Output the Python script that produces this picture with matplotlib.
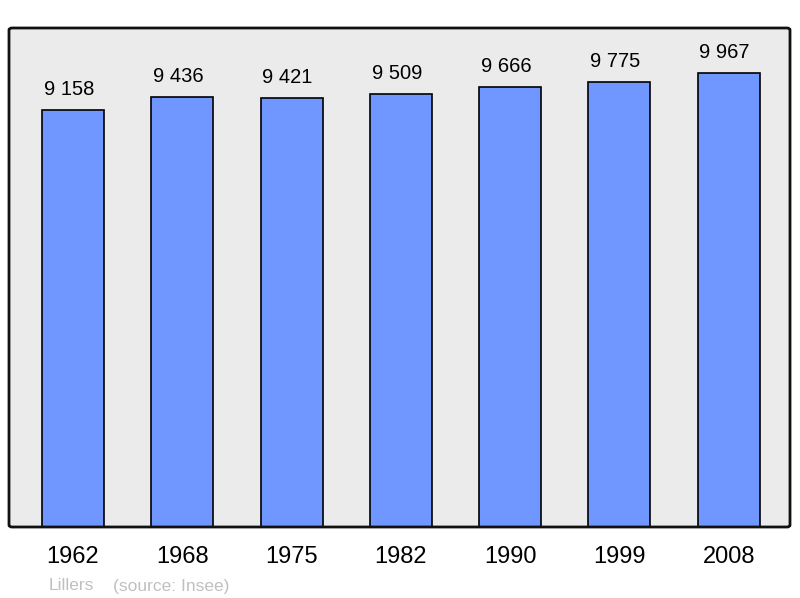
import matplotlib.pyplot as plt
from matplotlib.patches import FancyBboxPatch

# Données de population
annees = ['1962', '1968', '1975', '1982', '1990', '1999', '2008']
population = [9158, 9436, 9421, 9509, 9666, 9775, 9967]
etiquettes = ['9 158', '9 436', '9 421', '9 509', '9 666', '9 775', '9 967']

plt.rcParams['font.family'] = ['Liberation Sans', 'DejaVu Sans']

fig = plt.figure(figsize=(8, 5.98), dpi=100)
ax = fig.add_axes([9 / 800, 1 - 527 / 598, 781 / 800, 499 / 598])
ax.set_facecolor('#ebebeb')

x = list(range(len(annees)))
ax.bar(x, population, width=0.567, color='#7096ff', edgecolor='black',
       linewidth=1.2, zorder=2)

for xi, v, t in zip(x, population, etiquettes):
    ax.annotate(t, (xi, v), xytext=(-3, 8), textcoords='offset points',
                ha='center', va='bottom', fontsize=14.5)

ax.set_xlim(-0.585, 6.56)
ax.set_ylim(0, 10955)
ax.set_yticks([])
ax.set_xticks(x)
ax.set_xticklabels(annees, fontsize=17)
ax.tick_params(axis='x', length=0, pad=14)

for s in ax.spines.values():
    s.set_visible(False)
# Cadre aux coins arrondis
cadre = FancyBboxPatch((0, 0), 1, 1, boxstyle='round,pad=0,rounding_size=0.004',
                       transform=ax.transAxes, fill=False, edgecolor='#111111',
                       linewidth=2, clip_on=False, zorder=3)
ax.add_patch(cadre)

fig.text(49 / 800, 1 - 586 / 598, 'Lillers', fontsize=12.5, color='#c0c0c0', va='center')
fig.text(113 / 800, 1 - 586 / 598, '(source: Insee)', fontsize=12.5, color='#c0c0c0', va='center')

fig.savefig('out.png', dpi=100)
